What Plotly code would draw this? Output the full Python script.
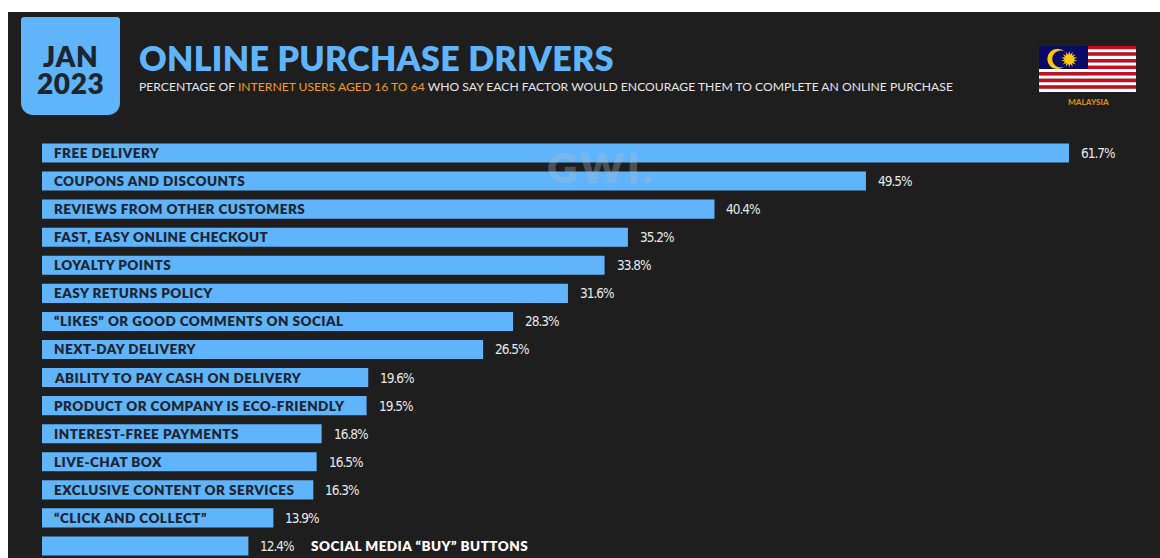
import math
import plotly.graph_objects as go

W, H = 1160, 558

# Survey results, in percent
factors = [
    "FREE DELIVERY", "COUPONS AND DISCOUNTS", "REVIEWS FROM OTHER CUSTOMERS",
    "FAST, EASY ONLINE CHECKOUT", "LOYALTY POINTS", "EASY RETURNS POLICY",
    "“LIKES” OR GOOD COMMENTS ON SOCIAL", "NEXT-DAY DELIVERY",
    "ABILITY TO PAY CASH ON DELIVERY", "PRODUCT OR COMPANY IS ECO-FRIENDLY",
    "INTEREST-FREE PAYMENTS", "LIVE-CHAT BOX", "EXCLUSIVE CONTENT OR SERVICES",
    "“CLICK AND COLLECT”", "SOCIAL MEDIA “BUY” BUTTONS",
]
shares = [61.7, 49.5, 40.4, 35.2, 33.8, 31.6, 28.3, 26.5, 19.6, 19.5, 16.8, 16.5, 16.3, 13.9, 12.4]
outside_label_factors = ["SOCIAL MEDIA “BUY” BUTTONS"]

BLUE = "#5fb4fb"
PANEL = "#1e1e1f"
INK = "#1d2530"
ORANGE = "#f39c12"
RED = "#cc0a1e"
NAVY = "#0a0a66"
GOLD = "#fdc70c"
HEAD = "Lato"
NARROW = "DejaVu Sans Condensed, Roboto"

def px(x):
    return x / W

def py(y):
    return 1 - y / H

def spaced(text, amount):
    return f'<span style="letter-spacing:{amount}px">{text}</span>'

def rect(x0, y0, x1, y1, color):
    return dict(type="rect", xref="paper", yref="paper", x0=px(x0), x1=px(x1),
                y0=py(y0), y1=py(y1), fillcolor=color, line_width=0, layer="below")

def circle(cx, cy, r, color):
    return dict(type="circle", xref="paper", yref="paper", x0=px(cx - r), x1=px(cx + r),
                y0=py(cy + r), y1=py(cy - r), fillcolor=color, line_width=0, layer="below")

def path(points, color):
    d = "M " + " L ".join(f"{px(a):.5f},{py(b):.5f}" for a, b in points) + " Z"
    return dict(type="path", xref="paper", yref="paper", path=d, fillcolor=color,
                line_width=0, layer="below")

def rounded_badge(x0, y0, x1, y1, top_r, bottom_r, color):
    pts = []
    corners = [(x1 - bottom_r, y1 - bottom_r, 0, bottom_r), (x0 + bottom_r, y1 - bottom_r, 90, bottom_r),
               (x0 + top_r, y0 + top_r, 180, top_r), (x1 - top_r, y0 + top_r, 270, top_r)]
    for cx, cy, start, r in corners:
        for k in range(9):
            a = math.radians(start + k * 90 / 8)
            pts.append((cx + r * math.cos(a), cy + r * math.sin(a)))
    return path(pts, color)

shapes = [rect(8, 12, W, H, PANEL), rounded_badge(21, 17, 120, 115, 3, 12, BLUE)]

# Flag of Malaysia: fourteen stripes, canton, crescent and sun
fx0, fy0, fx1, fy1 = 1039, 46, 1136, 92
stripe = (fy1 - fy0) / 14
for i in range(14):
    shapes.append(rect(fx0, fy0 + i * stripe, fx1, fy0 + (i + 1) * stripe, RED if i % 2 == 0 else "#ffffff"))
shapes.append(rect(fx0, fy0, 1088, fy0 + 7 * stripe, NAVY))
shapes.append(circle(1057.5, 59, 10.2, GOLD))
shapes.append(circle(1060.8, 59, 8.6, NAVY))
sun = []
for k in range(28):
    r = 8.2 if k % 2 == 0 else 4.6
    a = math.pi * k / 14
    sun.append((1069.2 + r * math.sin(a), 59.3 - r * math.cos(a)))
shapes.append(path(sun, GOLD))

fig = go.Figure(go.Bar(
    x=shares, y=factors, orientation="h", width=0.68,
    marker=dict(color=BLUE, line_width=0), hoverinfo="skip",
))

def note(x, y, text, size, color, family=HEAD, anchor="left", weight=400):
    fig.add_annotation(xref="paper", yref="paper", x=px(x), y=py(y), text=text, showarrow=False,
                       xanchor=anchor, yanchor="middle", align="left", borderpad=0,
                       font=dict(family=family, size=size, color=color, weight=weight))

note(70.5, 56, spaced("JAN", 0.6), 28, INK, anchor="center", weight=800)
note(70.5, 83, spaced("2023", 0.6), 28, INK, anchor="center", weight=800)
note(138, 58, spaced("ONLINE PURCHASE DRIVERS", 0.3), 34, BLUE, weight=800)
note(138, 87, (f'PERCENTAGE OF <span style="color:{ORANGE}">INTERNET USERS AGED 16 TO 64</span>'
               " WHO SAY EACH FACTOR WOULD ENCOURAGE THEM TO COMPLETE AN ONLINE PURCHASE"), 12.15, "#e6e6e6")
note(1088, 102, "MALAYSIA", 8.2, "#d98c0a", anchor="center", weight=900)
note(601, 167, spaced("GWI.", 2.5), 42, "rgba(175,190,205,0.32)", anchor="center", weight=800)

for name, value in zip(factors, shares):
    outside = name in outside_label_factors
    fig.add_annotation(xref="paper", yref="y", x=px(310 if outside else 53), y=name,
                       text=spaced(name, 0.47), showarrow=False, xanchor="left", yanchor="middle", borderpad=0,
                       font=dict(family=HEAD, size=13.5, weight=800, color="#ffffff" if outside else INK))
    fig.add_annotation(xref="x", yref="y", x=value, y=name, text=spaced(f"{value}%", -1), showarrow=False,
                       xanchor="left", yanchor="middle", xshift=11, borderpad=0,
                       font=dict(family=NARROW, size=13.5, color="#e8e8e8"))

fig.update_layout(
    width=W, height=H, margin=dict(l=0, r=0, t=0, b=0), showlegend=False,
    paper_bgcolor="#ffffff", plot_bgcolor="rgba(0,0,0,0)", shapes=shapes,
    xaxis=dict(domain=[px(42), 1], range=[0, (W - 42) / (1027 / 61.7)], visible=False),
    yaxis=dict(type="category", categoryorder="array", categoryarray=factors,
               range=[(H - 153) / 28.07, -153 / 28.07], visible=False),
)

fig.write_html("out.html", config=dict(displayModeBar=False))
